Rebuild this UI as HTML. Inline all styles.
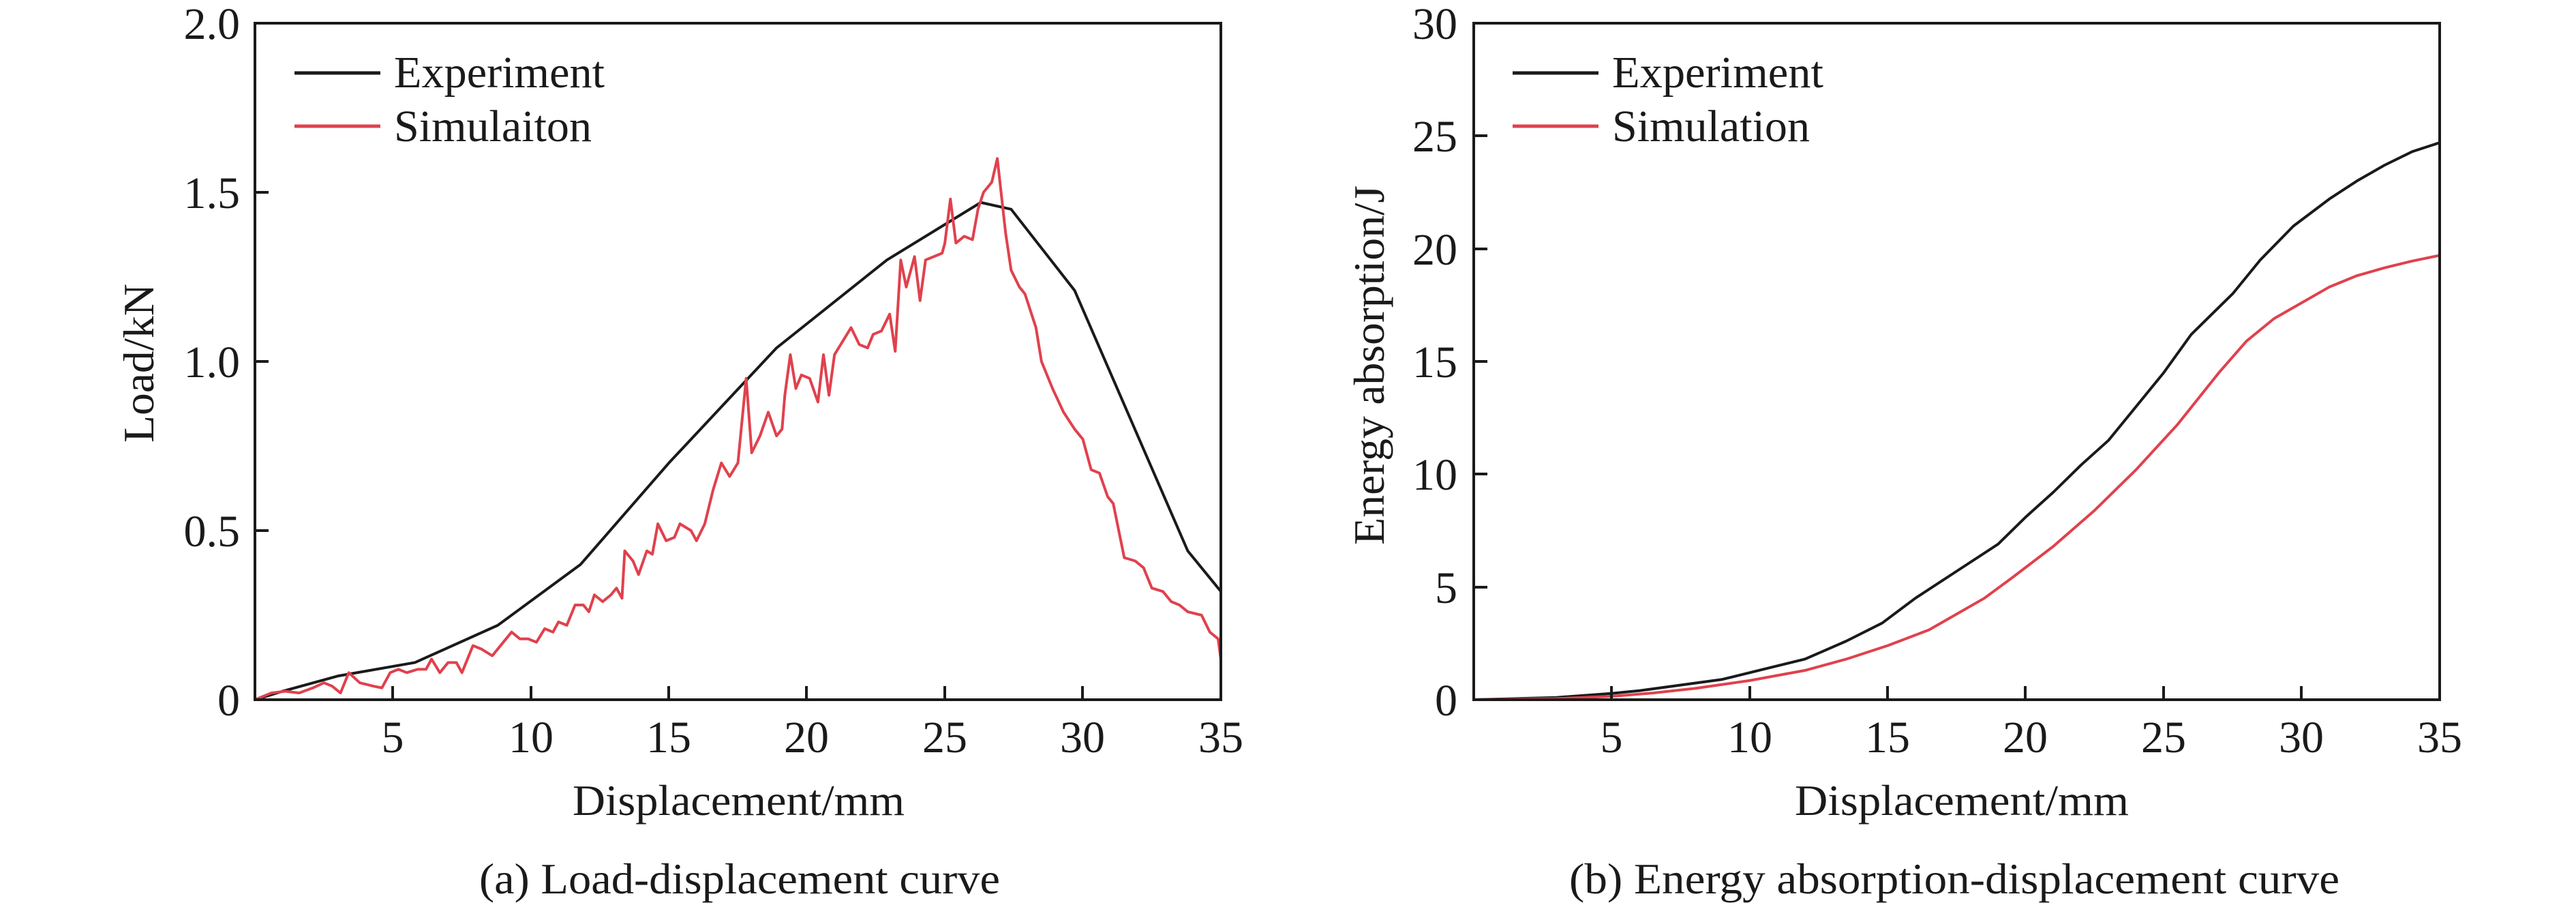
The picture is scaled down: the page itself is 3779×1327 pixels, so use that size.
<!DOCTYPE html>
<html><head><meta charset="utf-8"><style>
html,body{margin:0;padding:0;background:#fff;}
svg{display:block;}
text{font-family:"Liberation Serif",serif;fill:#1a1a1a;}
</style></head><body>
<svg width="3779" height="1327" viewBox="0 0 3779 1327" xmlns="http://www.w3.org/2000/svg">
<rect width="3779" height="1327" fill="#fff"/>

<!-- ========== LEFT PLOT ========== -->
<g transform="translate(374,1026) scale(40.486,-496)">
<polyline fill="none" stroke="#1a1a1a" stroke-width="4" vector-effect="non-scaling-stroke" stroke-linejoin="round"
points="0,0 1,0.025 3,0.07 5.8,0.11 8.8,0.22 11.8,0.4 15,0.7 18.9,1.04 22.9,1.3 26.3,1.47 27.4,1.45 29.7,1.21 33.8,0.44 35,0.32"/>
<polyline fill="none" stroke="#e0414d" stroke-width="4" vector-effect="non-scaling-stroke" stroke-linejoin="round"
points="0,0 0.6,0.02 1.1,0.025 1.6,0.02 2.1,0.035 2.5,0.05 2.8,0.04 3.1,0.02 3.4,0.08 3.8,0.05 4.3,0.04 4.6,0.035 4.9,0.08 5.2,0.09 5.5,0.08 5.9,0.09 6.2,0.09 6.4,0.12 6.7,0.08 7,0.11 7.3,0.11 7.5,0.08 7.9,0.16 8.2,0.15 8.6,0.13 9,0.17 9.3,0.2 9.6,0.18 9.9,0.18 10.2,0.17 10.5,0.21 10.8,0.2 11,0.23 11.3,0.22 11.6,0.28 11.9,0.28 12.1,0.26 12.3,0.31 12.6,0.29 12.9,0.31 13.1,0.33 13.3,0.3 13.4,0.44 13.7,0.41 13.9,0.37 14.2,0.44 14.4,0.43 14.6,0.52 14.9,0.47 15.2,0.48 15.4,0.52 15.8,0.5 16,0.47 16.3,0.52 16.6,0.62 16.9,0.7 17.2,0.66 17.5,0.7 17.8,0.95 18,0.73 18.3,0.78 18.6,0.85 18.9,0.78 19.1,0.8 19.2,0.9 19.4,1.02 19.6,0.92 19.8,0.96 20.1,0.95 20.4,0.88 20.6,1.02 20.8,0.9 21,1.02 21.3,1.06 21.6,1.1 21.9,1.05 22.2,1.04 22.4,1.08 22.7,1.09 23,1.14 23.2,1.03 23.4,1.3 23.6,1.22 23.9,1.31 24.1,1.18 24.3,1.3 24.6,1.31 24.9,1.32 25,1.35 25.2,1.48 25.4,1.35 25.7,1.37 26,1.36 26.2,1.45 26.4,1.5 26.7,1.53 26.9,1.6 27.2,1.38 27.4,1.27 27.7,1.22 27.9,1.2 28.3,1.1 28.5,1.0 28.9,0.92 29.3,0.85 29.7,0.8 30,0.77 30.3,0.68 30.6,0.67 30.9,0.6 31.1,0.58 31.3,0.5 31.5,0.42 31.9,0.41 32.2,0.39 32.5,0.33 32.9,0.32 33.2,0.29 33.5,0.28 33.8,0.26 34.3,0.25 34.6,0.2 34.9,0.18 35,0.12"/>
</g>
<rect x="374" y="34" width="1417" height="992" fill="none" stroke="#1a1a1a" stroke-width="4"/>
<g stroke="#1a1a1a" stroke-width="4">
<line x1="576" y1="1026" x2="576" y2="1006"/><line x1="779" y1="1026" x2="779" y2="1006"/><line x1="981" y1="1026" x2="981" y2="1006"/><line x1="1183" y1="1026" x2="1183" y2="1006"/><line x1="1386" y1="1026" x2="1386" y2="1006"/><line x1="1588" y1="1026" x2="1588" y2="1006"/>
<line x1="374" y1="778" x2="394" y2="778"/><line x1="374" y1="530" x2="394" y2="530"/><line x1="374" y1="282" x2="394" y2="282"/>
</g>
<g font-size="66" text-anchor="end">
<text x="352" y="1049">0</text><text x="352" y="801">0.5</text><text x="352" y="553">1.0</text><text x="352" y="305">1.5</text><text x="352" y="57">2.0</text>
</g>
<g font-size="66" text-anchor="middle">
<text x="576" y="1103">5</text><text x="779" y="1103">10</text><text x="981" y="1103">15</text><text x="1183" y="1103">20</text><text x="1386" y="1103">25</text><text x="1588" y="1103">30</text><text x="1791" y="1103">35</text>
</g>
<line x1="432" y1="107" x2="558" y2="107" stroke="#1a1a1a" stroke-width="5"/>
<line x1="432" y1="185" x2="558" y2="185" stroke="#e0414d" stroke-width="5"/>
<text x="578" y="128" font-size="66" textLength="309" lengthAdjust="spacingAndGlyphs">Experiment</text>
<text x="578" y="207" font-size="66" textLength="290" lengthAdjust="spacingAndGlyphs">Simulaiton</text>
<text x="840" y="1195" font-size="64" textLength="487" lengthAdjust="spacingAndGlyphs">Displacement/mm</text>
<text x="703" y="1310" font-size="64" textLength="764" lengthAdjust="spacingAndGlyphs">(a) Load-displacement curve</text>
<text transform="translate(225,649) rotate(-90)" font-size="64" textLength="233" lengthAdjust="spacingAndGlyphs">Load/kN</text>

<!-- ========== RIGHT PLOT ========== -->
<g transform="translate(2162,1026) scale(40.486,-33.07)">
<polyline fill="none" stroke="#1a1a1a" stroke-width="4" vector-effect="non-scaling-stroke" stroke-linejoin="round"
points="0,0 3,0.1 5,0.28 6,0.4 7.5,0.65 9,0.9 10.5,1.35 12,1.8 13.5,2.6 14.8,3.4 16,4.5 17.5,5.7 19,6.9 20,8.1 21,9.2 22,10.4 23,11.5 24,13 25,14.5 26,16.2 27.5,18 28.5,19.5 29.7,21 31,22.2 32,23 33,23.7 34,24.3 35,24.7"/>
<polyline fill="none" stroke="#e0414d" stroke-width="4" vector-effect="non-scaling-stroke" stroke-linejoin="round"
points="0,0 3,0.05 5,0.15 6.5,0.3 8,0.5 10,0.85 12,1.3 13.5,1.8 15,2.4 16.5,3.1 17.5,3.8 18.5,4.5 19.5,5.4 21,6.8 22.5,8.4 24,10.2 25.5,12.2 27,14.5 28,15.9 29,16.9 30,17.6 31,18.3 32,18.8 33,19.15 34,19.45 35,19.7"/>
</g>
<rect x="2162" y="34" width="1417" height="992" fill="none" stroke="#1a1a1a" stroke-width="4"/>
<g stroke="#1a1a1a" stroke-width="4">
<line x1="2364" y1="1026" x2="2364" y2="1006"/><line x1="2567" y1="1026" x2="2567" y2="1006"/><line x1="2769" y1="1026" x2="2769" y2="1006"/><line x1="2971" y1="1026" x2="2971" y2="1006"/><line x1="3174" y1="1026" x2="3174" y2="1006"/><line x1="3376" y1="1026" x2="3376" y2="1006"/>
<line x1="2162" y1="861" x2="2182" y2="861"/><line x1="2162" y1="695" x2="2182" y2="695"/><line x1="2162" y1="530" x2="2182" y2="530"/><line x1="2162" y1="365" x2="2182" y2="365"/><line x1="2162" y1="199" x2="2182" y2="199"/>
</g>
<g font-size="66" text-anchor="end">
<text x="2138" y="1049">0</text><text x="2138" y="884">5</text><text x="2138" y="718">10</text><text x="2138" y="553">15</text><text x="2138" y="388">20</text><text x="2138" y="222">25</text><text x="2138" y="57">30</text>
</g>
<g font-size="66" text-anchor="middle">
<text x="2364" y="1103">5</text><text x="2567" y="1103">10</text><text x="2769" y="1103">15</text><text x="2971" y="1103">20</text><text x="3174" y="1103">25</text><text x="3376" y="1103">30</text><text x="3579" y="1103">35</text>
</g>
<line x1="2219" y1="107" x2="2345" y2="107" stroke="#1a1a1a" stroke-width="5"/>
<line x1="2219" y1="185" x2="2345" y2="185" stroke="#e0414d" stroke-width="5"/>
<text x="2365" y="128" font-size="66" textLength="310" lengthAdjust="spacingAndGlyphs">Experiment</text>
<text x="2365" y="207" font-size="66" textLength="290" lengthAdjust="spacingAndGlyphs">Simulation</text>
<text x="2633" y="1195" font-size="64" textLength="490" lengthAdjust="spacingAndGlyphs">Displacement/mm</text>
<text x="2302" y="1310" font-size="64" textLength="1130" lengthAdjust="spacingAndGlyphs">(b) Energy absorption-displacement curve</text>
<text transform="translate(2030,799) rotate(-90)" font-size="64" textLength="527" lengthAdjust="spacingAndGlyphs">Energy absorption/J</text>
</svg>
</body></html>
